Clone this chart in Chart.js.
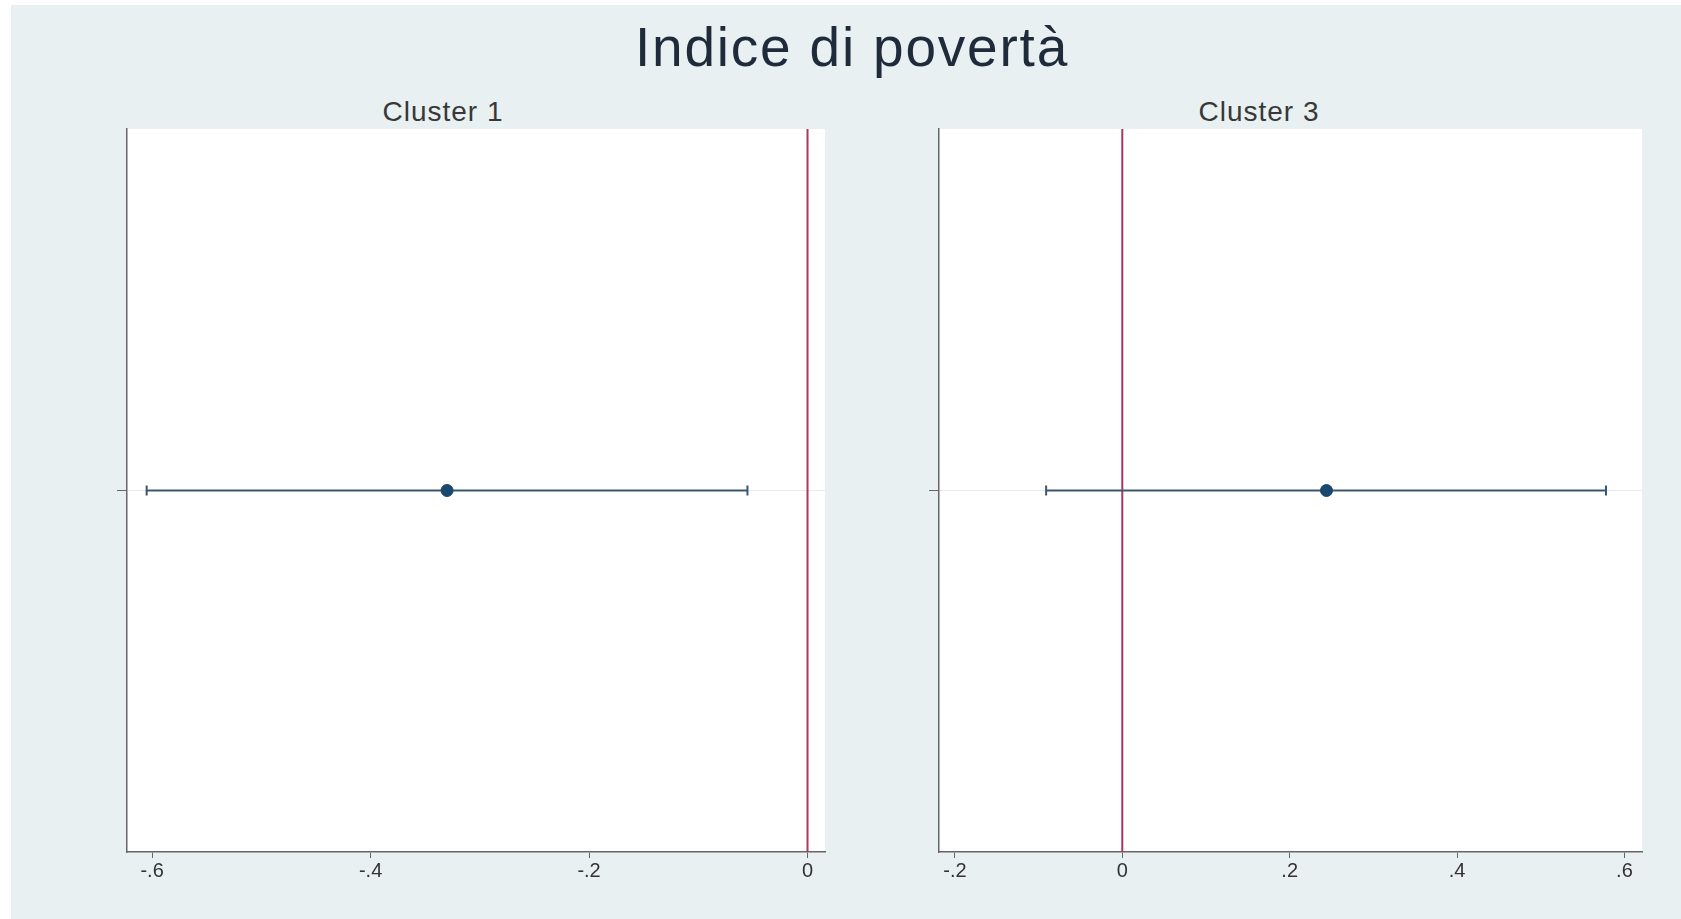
<!DOCTYPE html>
<html>
<head>
<meta charset="utf-8">
<script src="https://cdn.jsdelivr.net/npm/chart.js@4"></script>
<style>
  body { margin: 0; background: #fff; width: 1681px; height: 919px; overflow: hidden; position: relative; font-family: "Liberation Sans", Arial, sans-serif; }
  #bg { position: absolute; left: 11px; top: 5px; right: 0; bottom: 0; background: #e8f0f2; }
  .txt { position: absolute; transform: translate(-50%, -50%); white-space: nowrap; }
  #title { left: 852px; top: 47px; font-size: 55px; letter-spacing: 1.8px; color: #1f2a3a; }
  .sub { top: 112px; font-size: 28px; letter-spacing: 1px; color: #383838; }
  canvas { position: absolute; }
</style>
</head>
<body>
<div id="bg"></div>
<div id="title" class="txt">Indice di povertà</div>
<div class="txt sub" style="left:443px">Cluster 1</div>
<div class="txt sub" style="left:1259px">Cluster 3</div>
<canvas id="c1" width="850" height="800" style="left:0;top:119px"></canvas>
<canvas id="c3" width="821" height="800" style="left:860px;top:119px"></canvas>
<script>
// estimates and confidence intervals
var clusters = ['Cluster 1', 'Cluster 3'];
var estimates = [-0.33, 0.244];
var ciLow = [-0.605, -0.091];
var ciHigh = [-0.055, 0.578];

// x axis ranges and ticks for each panel
var xMin = [-0.623, -0.219];
var xMax = [0.016, 0.621];
var tickValues = [[-0.6, -0.4, -0.2, 0], [-0.2, 0, 0.2, 0.4, 0.6]];
var tickLabels = [['-.6', '-.4', '-.2', '0'], ['-.2', '0', '.2', '.4', '.6']];

var plotBg = {
  id: 'plotBg',
  beforeDraw: function (chart) {
    var a = chart.chartArea, ctx = chart.ctx;
    ctx.save();
    ctx.fillStyle = '#ffffff';
    ctx.fillRect(a.left, a.top, a.right - a.left, a.bottom - a.top);
    ctx.restore();
  }
};

function makePanel(canvasId, i, yWidth, padRight) {
  var ctx = document.getElementById(canvasId).getContext('2d');
  return new Chart(ctx, {
    type: 'scatter',
    data: {
      datasets: [
        {
          label: 'estimate',
          data: [{ x: estimates[i], y: 1 }],
          pointRadius: 6,
          pointBackgroundColor: '#1a476f',
          pointBorderColor: '#1a476f',
          order: 1
        },
        {
          label: 'ci',
          data: [{ x: ciLow[i], y: 1 }, { x: ciHigh[i], y: 1 }],
          showLine: true,
          borderColor: '#3c5672',
          borderWidth: 2,
          pointStyle: 'line',
          rotation: 90,
          pointRadius: 5,
          pointBorderColor: '#3c5672',
          pointBorderWidth: 2,
          order: 2
        },
        {
          label: 'zero',
          data: [{ x: 0, y: 0 }, { x: 0, y: 2 }],
          showLine: true,
          borderColor: '#a8385c',
          borderWidth: 2,
          pointRadius: 0,
          order: 3
        }
      ]
    },
    options: {
      responsive: false,
      animation: false,
      layout: { padding: { top: 10, right: padRight, left: 0, bottom: 0 } },
      plugins: { legend: { display: false }, tooltip: { enabled: false } },
      scales: {
        x: {
          type: 'linear',
          min: xMin[i],
          max: xMax[i],
          afterBuildTicks: function (scale) {
            scale.ticks = tickValues[i].map(function (v) { return { value: v }; });
          },
          afterFit: function (scale) { scale.height = 67; },
          grid: { drawOnChartArea: false, drawTicks: true, tickLength: 6, tickColor: '#666' },
          border: { color: '#666', width: 1.5 },
          ticks: {
            padding: 1,
            color: '#333',
            font: { family: 'Liberation Sans', size: 20 },
            maxRotation: 0,
            autoSkip: false,
            callback: function (v) {
              var k = tickValues[i].indexOf(v);
              return k >= 0 ? tickLabels[i][k] : '';
            }
          }
        },
        y: {
          type: 'linear',
          min: 0,
          max: 2,
          afterBuildTicks: function (scale) { scale.ticks = [{ value: 1 }]; },
          afterFit: function (scale) { scale.width = yWidth; },
          grid: { drawOnChartArea: true, color: '#e4ecee', lineWidth: 1, drawTicks: true, tickLength: 10, tickColor: '#666' },
          border: { color: '#666', width: 1.5 },
          ticks: { display: false }
        }
      }
    },
    plugins: [plotBg]
  });
}

makePanel('c1', 0, 127, 25);
makePanel('c3', 1, 79, 39);
</script>
</body>
</html>
